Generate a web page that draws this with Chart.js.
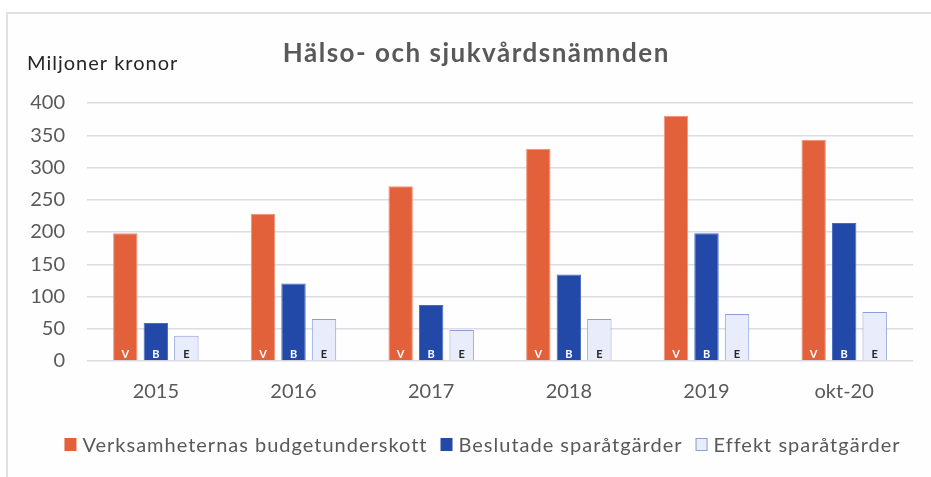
<!DOCTYPE html>
<html>
<head>
<meta charset="utf-8">
<script src="https://cdn.jsdelivr.net/npm/chart.js@4.4.1/dist/chart.umd.min.js"></script>
<style>
  html, body { margin: 0; padding: 0; background: #ffffff; }
  #wrap { position: relative; width: 931px; height: 477px; overflow: hidden; }
  #frame { position: absolute; left: 6px; top: 12px; width: 1000px; height: 1000px;
           border: 2px solid #E0E0E6; background: #FEFEFE; box-sizing: border-box; }
  canvas { position: absolute; left: 0; top: 0; }
</style>
</head>
<body>
<div id="wrap">
  <div id="frame"></div>
  <canvas id="c" width="931" height="477"></canvas>
</div>
<script>
const categories = ['2015', '2016', '2017', '2018', '2019', 'okt-20'];
const budgetunderskott = [198, 228, 271, 329, 380, 343];
const beslutadeSparatgarder = [59, 120, 87, 134, 198, 214];
const effektSparatgarder = [39, 65, 48, 65, 73, 76];
const seriesNames = ['Verksamheternas budgetunderskott', 'Beslutade sparåtgärder', 'Effekt sparåtgärder'];
const barLetters = ['V', 'B', 'E'];
const yTickValues = [0, 50, 100, 150, 200, 250, 300, 350, 400];
const chartTitle = 'Hälso- och sjukvårdsnämnden';
const yAxisTitle = 'Miljoner kronor';

const FONT = 'Lato, "Open Sans", sans-serif';

const extraText = {
  id: 'extraText',
  afterDraw(chart) {
    const ctx = chart.ctx;
    ctx.save();
    // title
    ctx.textAlign = 'center';
    ctx.textBaseline = 'alphabetic';
    ctx.fillStyle = '#595959';
    ctx.font = 'bold 26px ' + FONT;
    ctx.letterSpacing = '1.5px';
    ctx.fillText(chartTitle, 476.3, 62);
    // y axis title
    ctx.textAlign = 'left';
    ctx.fillStyle = '#262626';
    ctx.font = '20px ' + FONT;
    ctx.letterSpacing = '1px';
    ctx.fillText(yAxisTitle, 27, 69.5);
    // legend
    ctx.font = '20px ' + FONT;
    ctx.letterSpacing = '1px';
    const box = 12, gapText = 6, gapItem = 13;
    const widths = chart.data.datasets.map(ds => ctx.measureText(ds.label).width);
    const total = widths.reduce((a, w) => a + box + gapText + w, 0) + gapItem * (widths.length - 1);
    let x = 482.5 - total / 2;
    const ly = 444.5;
    chart.data.datasets.forEach((ds, i) => {
      ctx.fillStyle = ds.backgroundColor;
      ctx.fillRect(x, ly - 6.5, box, 13);
      if (i === 2) {
        ctx.strokeStyle = ds.borderColor;
        ctx.lineWidth = 1;
        ctx.strokeRect(x + 0.5, ly - 6, box - 1, 12);
      }
      ctx.fillStyle = '#595959';
      ctx.textBaseline = 'alphabetic';
      ctx.fillText(ds.label, x + box + gapText, ly + 7.2);
      x += box + gapText + widths[i] + gapItem;
    });
    // letters inside bars
    ctx.letterSpacing = '0px';
    ctx.font = 'bold 11px ' + FONT;
    ctx.textAlign = 'center';
    ctx.textBaseline = 'middle';
    chart.data.datasets.forEach((ds, di) => {
      const meta = chart.getDatasetMeta(di);
      meta.data.forEach(el => {
        ctx.fillStyle = di === 2 ? '#262626' : '#ffffff';
        ctx.fillText(barLetters[di], el.x, chart.chartArea.bottom - 7);
      });
    });
    ctx.restore();
  }
};

new Chart(document.getElementById('c'), {
  type: 'bar',
  data: {
    labels: categories,
    datasets: [
      { label: seriesNames[0], data: budgetunderskott, backgroundColor: '#E2603A', borderColor: '#EE9478', borderWidth: 1 },
      { label: seriesNames[1], data: beslutadeSparatgarder, backgroundColor: '#2349A8', borderColor: '#4A6CC0', borderWidth: 1 },
      { label: seriesNames[2], data: effektSparatgarder, backgroundColor: '#E9ECFB', borderColor: '#8C9ED6', borderWidth: 1 }
    ]
  },
  options: {
    responsive: false,
    animation: false,
    devicePixelRatio: 1,
    layout: { padding: { left: 0, right: 18, top: 103, bottom: 0 } },
    datasets: { bar: { categoryPercentage: 0.665, barPercentage: 0.8 } },
    scales: {
      x: {
        afterFit(scale) { scale.height = 116; },
        grid: { display: false, drawTicks: false },
        border: { display: false },
        ticks: { color: '#595959', font: { family: FONT, size: 20 }, padding: 19 }
      },
      y: {
        min: 0, max: 400,
        afterFit(scale) { scale.width = 87; },
        afterBuildTicks(scale) { scale.ticks = yTickValues.map(v => ({ value: v })); },
        grid: { color: '#DCDCE4', lineWidth: 1.5, drawTicks: false },
        border: { display: false },
        ticks: { color: '#595959', font: { family: FONT, size: 20 }, padding: 22 }
      }
    },
    plugins: {
      title: { display: false },
      tooltip: { enabled: false },
      legend: { display: false }
    }
  },
  plugins: [extraText]
});
</script>
</body>
</html>
